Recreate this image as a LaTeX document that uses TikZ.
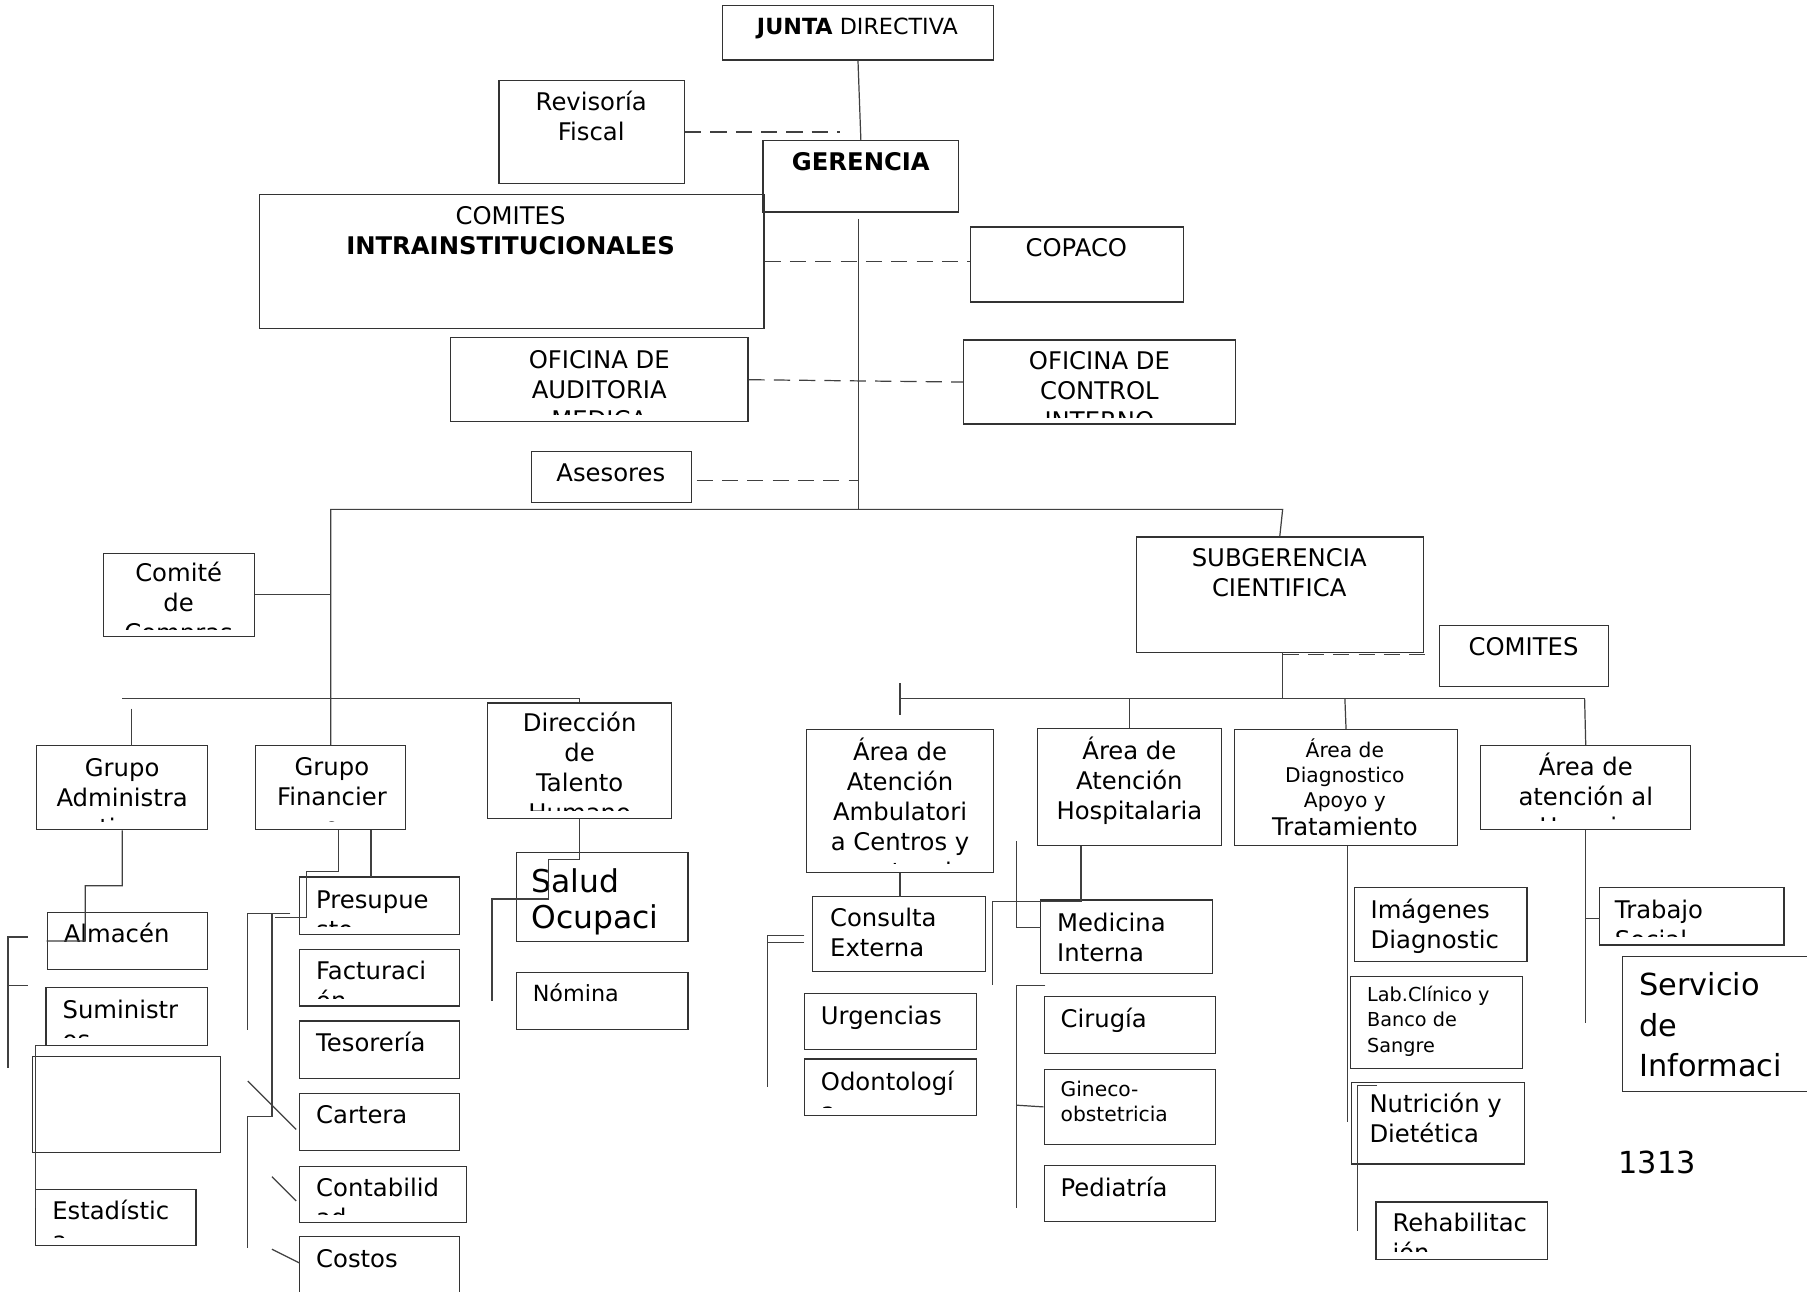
\documentclass[tikz,border=0pt]{standalone}
\usepackage{fontspec}
\setmainfont{DejaVu Sans}
\usetikzlibrary{fit}

\begin{document}
\begin{tikzpicture}[x=0.02cm, y=-0.02cm]
\tikzstyle{caja} = [draw=black!80, line width=0.6pt, inner sep=0pt]
\tikzstyle{txt} = [inner sep=0pt, align=center, anchor=base, font=\fontsize{12}{14.8}\selectfont]
\tikzstyle{txtl} = [inner sep=0pt, align=left, anchor=base west, font=\fontsize{12}{14.8}\selectfont]
\tikzstyle{linea} = [draw=black!75, line width=0.6pt]
\tikzstyle{rayas} = [linea, dash pattern=on 8pt off 4.5pt]

\useasboundingbox (0,0) rectangle (1568,1121);
\fill[white] (0,0) rectangle (1568,1121);

% direccion (texts placed by the baseline of their last line)
\node[caja, fit={(627,5) (862,52)}] (junta) {};
\node[txt, font=\fontsize{11}{13.5}\selectfont] (t-junta) at (744,30) {\textbf{JUNTA} DIRECTIVA};
\node[caja, fit={(433,70) (594,159)}] (revisoria) {};
\node[txt] (t-revisoria) at (513,122) {Revisoría\\Fiscal};
\node[caja, fit={(662,122) (832,184)}] (gerencia) {};
\node[txt] (t-gerencia) at (747,148) {\textbf{GERENCIA}};
\node[caja, fit={(225,169) (663,285)}] (comites) {};
\node[txt] (t-comites) at (443,221) {COMITES\\\textbf{INTRAINSTITUCIONALES}};
\node[caja, fit={(842,197) (1027,262)}] (copaco) {};
\node[txt] (t-copaco) at (934,223) {COPACO};
\node[caja, fit={(391,293) (649,366)}] (auditoria) {};
\begin{scope}
\clip (391,293) rectangle (649,360);
\node[txt] (t-auditoria) at (520,372) {OFICINA DE\\AUDITORIA\\MEDICA};
\end{scope}
\node[caja, fit={(836,295) (1072,368)}] (control) {};
\begin{scope}
\clip (836,295) rectangle (1072,362);
\node[txt] (t-control) at (954,373) {OFICINA DE\\CONTROL\\INTERNO};
\end{scope}
\node[caja, fit={(461,392) (600,436)}] (asesores) {};
\node[txt] (t-asesores) at (530,418) {Asesores};

\draw[linea] (junta.south) -- (gerencia.north);
\draw[rayas] (revisoria.east) -- ++(134,0);
\draw[linea] (745,190) -- (745,442) coordinate (nudo);
\draw[rayas] (comites.east) -- (comites.east -| copaco.west);
\draw[rayas] (auditoria.east) -- (control.west);
\draw[rayas] (asesores.east) ++(4,3) -- (nudo |- 0,417);

% rama administrativa
\node[caja, fit={(90,480) (221,552)}] (compras) {};
\begin{scope}
\clip (90,480) rectangle (221,546);
\node[txt] (t-compras) at (155,557) {Comité\\de\\Compras};
\end{scope}
\node[caja, fit={(32,647) (180,720)}] (admin) {};
\begin{scope}
\clip (32,647) rectangle (180,713);
\node[txt] (t-admin) at (106,726) {Grupo\\Administra\\tiva};
\end{scope}
\node[caja, fit={(222,647) (352,720)}] (financiero) {};
\begin{scope}
\clip (222,647) rectangle (352,713);
\node[txt] (t-financiero) at (288,725) {Grupo\\Financier\\o};
\end{scope}
\node[caja, fit={(423,610) (583,710)}] (talento) {};
\begin{scope}
\clip (423,610) rectangle (583,703);
\node[txt] (t-talento) at (503,713) {Dirección\\de\\Talento\\Humano};
\end{scope}

\draw[linea] (compras.east) -- (financiero.north |- compras.east);
\draw[linea] (106,606) -| (talento.north);
\draw[linea] (114,615) -- (114,647);

% grupo administrativo
\node[caja, fit={(41,792) (180,841)}] (almacen) {};
\node[txtl] (t-almacen) at (55,818) {Almacén};
\node[caja, fit={(40,857) (180,907)}] (suministros) {};
\begin{scope}
\clip (40,857) rectangle (180,900);
\node[txtl] (t-suministros) at (54,910) {Suministr\\os};
\end{scope}
\node[caja, fit={(28,917) (191,1000)}] (vacio) {};
\node[caja, fit={(31,1032) (170,1081)}] (estadistica) {};
\begin{scope}
\clip (31,1032) rectangle (170,1074);
\node[txtl] (t-estadistica) at (45,1084) {Estadístic\\a};
\end{scope}

\draw[linea] (admin.south) -- ++(0,48) -| (74,816.5) -- (almacen.west);
\draw[linea] (24,813) -- (7,813) -- (7,927);
\draw[linea] (7,855) -- (24,855);
\draw[linea] (suministros.south west) -- ++(-9,0) -- ++(0,141);

% grupo financiero
\node[caja, fit={(260,761) (399,811)}] (presupuesto) {};
\begin{scope}
\clip (260,761) rectangle (399,804);
\node[txtl] (t-presupuesto) at (274,814) {Presupue\\sto};
\end{scope}
\node[caja, fit={(260,824) (399,873)}] (facturacion) {};
\begin{scope}
\clip (260,824) rectangle (399,866);
\node[txtl] (t-facturacion) at (274,876) {Facturaci\\ón};
\end{scope}
\node[caja, fit={(260,886) (399,936)}] (tesoreria) {};
\node[txtl] (t-tesoreria) at (274,912) {Tesorería};
\node[caja, fit={(260,949) (399,998)}] (cartera) {};
\node[txtl] (t-cartera) at (274,975) {Cartera};
\node[caja, fit={(260,1012) (405,1061)}] (contabilidad) {};
\begin{scope}
\clip (260,1012) rectangle (405,1054);
\node[txtl] (t-contabilidad) at (274,1064) {Contabilid\\ad};
\end{scope}
\node[caja, fit={(260,1073) (399,1126)}] (costos) {};
\node[txtl] (t-costos) at (274,1100) {Costos};

\draw[linea] (294,720) -- (294,756) -- (266,756) -- (266,796) -- (239,796);
\draw[linea] (252,793) -- (215,793) -- (215,894);
\draw[linea] (236,793) -- (236,969) -- (215,969) -- (215,1083);
\draw[linea] (322,720) -- (322,761);
\draw[linea] (215,938) -- (257,980);
\draw[linea] (236,1021) -- (257,1042);
\draw[linea] (236,1084) -- (260,1096);

% talento humano
\node[caja, fit={(448,740) (597,817)}] (salud) {};
\node[txtl, font=\fontsize{15.5}{18.2}\selectfont] (t-salud) at (461,806) {Salud\\Ocupaci};
\node[caja, fit={(448,844) (597,893)}] (nomina) {};
\node[txtl, font=\fontsize{11}{13.5}\selectfont] (t-nomina) at (462,869) {Nómina};

\draw[linea] (talento.south) -- ++(0,35) -| (476,780) -- (427,780) -- (427,869);

% subgerencia
\node[caja, fit={(986,466) (1235,566)}] (subgerencia) {};
\node[txt] (t-subgerencia) at (1110,518) {SUBGERENCIA\\CIENTIFICA};
\node[caja, fit={(1249,543) (1396,596)}] (comitesb) {};
\node[txt] (t-comitesb) at (1322,569) {COMITES};
\node[caja, fit={(700,633) (862,757)}] (ambulatoria) {};
\begin{scope}
\clip (700,633) rectangle (862,749);
\node[txt] (t-ambulatoria) at (781,764) {Área de\\Atención\\Ambulatori\\a Centros y\\puestos de};
\end{scope}
\node[caja, fit={(900,632) (1060,734)}] (hospitalaria) {};
\node[txt] (t-hospitalaria) at (980,711) {Área de\\Atención\\Hospitalaria};
\node[caja, fit={(1071,633) (1265,734)}] (diagnostico) {};
\node[txt, font=\fontsize{10}{12.5}\selectfont] (t-diagnostico) at (1167,701) {Área de\\Diagnostico\\Apoyo y};
\node[txt] (t-tratamiento) at (1167,725) {Tratamiento};
\node[caja, fit={(1285,647) (1467,720)}] (usuario) {};
\begin{scope}
\clip (1285,647) rectangle (1467,712);
\node[txt] (t-usuario) at (1376,725) {Área de\\atención al\\Usuario};
\end{scope}

\draw[linea] (financiero.north) -- (financiero.north |- nudo) -- (1113,442) -- (subgerencia.north);
\draw[rayas] (1113,568) -- (1242,568);
\draw[linea] (1113,566) -- (1113,606);
\draw[linea] (781,606) -- (1375,606);
\draw[linea] (781,593) -- (781,620);
\draw[linea] (980,606) -- (hospitalaria.north);
\draw[linea] (1167,606) -- (diagnostico.north);
\draw[linea] (1375,606) -- (usuario.north);

% atencion ambulatoria
\node[caja, fit={(705,778) (855,843)}] (consulta) {};
\node[txtl] (t-consulta) at (720,830) {Consulta\\Externa};
\node[caja, fit={(698,862) (847,911)}] (urgencias) {};
\node[txtl] (t-urgencias) at (712,889) {Urgencias};
\node[caja, fit={(698,919) (847,968)}] (odontologia) {};
\begin{scope}
\clip (698,919) rectangle (847,961);
\node[txtl] (t-odontologia) at (712,972) {Odontologí\\a};
\end{scope}

\draw[linea] (ambulatoria.south) -- (781,778);
\draw[linea] (698,812) -- (666,812) -- (666,943);
\draw[linea] (666,818) -- (698,818);

% atencion hospitalaria
\node[caja, fit={(903,781) (1052,845)}] (medicina) {};
\node[txtl] (t-medicina) at (917,834) {Medicina\\Interna};
\node[caja, fit={(906,865) (1055,914)}] (cirugia) {};
\node[txtl] (t-cirugia) at (920,892) {Cirugía};
\node[caja, fit={(906,928) (1055,993)}] (gineco) {};
\node[txtl, font=\fontsize{10}{12.5}\selectfont] (t-gineco) at (920,973) {Gineco-\\obstetricia};
\node[caja, fit={(906,1011) (1055,1060)}] (pediatria) {};
\node[txtl] (t-pediatria) at (920,1038) {Pediatría};

\draw[linea] (938,734) -- (938,782) -- (861,782) -- (861,855);
\draw[linea] (882,730) -- (882,805) -- (903,805);
\draw[linea] (907,855) -- (882,855) -- (882,1048);
\draw[linea] (882,959) -- (gineco.west);

% diagnostico y tratamiento
\node[caja, fit={(1175,770) (1325,834)}] (imagenes) {};
\node[txtl] (t-imagenes) at (1189,823) {Imágenes\\Diagnostic};
\node[caja, fit={(1172,847) (1321,927)}] (lab) {};
\node[txtl, font=\fontsize{9.5}{12.5}\selectfont] (t-lab) at (1186,913) {Lab.Clínico y\\Banco de\\Sangre};
\node[caja, fit={(1173,939) (1323,1010)}] (nutricion) {};
\node[txtl] (t-nutricion) at (1188,991) {Nutrición y\\Dietética};
\node[caja, fit={(1194,1043) (1343,1093)}] (rehab) {};
\begin{scope}
\clip (1194,1043) rectangle (1343,1086);
\node[txtl] (t-rehab) at (1208,1095) {Rehabilitac\\ión};
\end{scope}

\draw[linea] (1169,734) -- (1169,974);
\draw[linea] (1195,942) -- (1178,942) -- (1178,1068);

% atencion al usuario
\node[caja, fit={(1388,770) (1548,820)}] (trabajo) {};
\begin{scope}
\clip (1388,770) rectangle (1548,813);
\node[txtl] (t-trabajo) at (1401,823) {Trabajo\\Social};
\end{scope}
\node[caja, fit={(1408,830) (1575,947)}] (servicio) {};
\node[txtl, font=\fontsize{15}{19.9}\selectfont] (t-servicio) at (1422,934) {Servicio\\de\\Informaci};
\node[txtl, font=\fontsize{15}{18}\selectfont] (numero) at (1404,1018) {1313};

\draw[linea] (usuario.south) -- (1376,888);
\draw[linea] (1376,797) -- (1388,797);

\end{tikzpicture}
\end{document}
